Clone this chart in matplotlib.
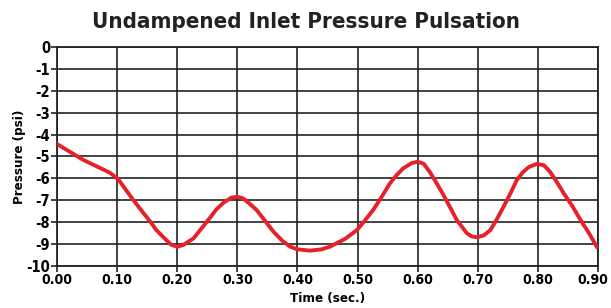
import matplotlib
matplotlib.use('Agg')
import matplotlib.pyplot as plt
from matplotlib.transforms import ScaledTranslation

# pressure curve
time = [0.000, 0.044, 0.088, 0.102, 0.110, 0.127, 0.140, 0.155, 0.165, 0.177,
        0.190, 0.200, 0.210, 0.227, 0.240, 0.255, 0.265, 0.277, 0.290, 0.300,
        0.310, 0.321, 0.332, 0.345, 0.360, 0.375, 0.388, 0.400, 0.421, 0.440,
        0.454, 0.480, 0.499, 0.510, 0.526, 0.540, 0.554, 0.565, 0.576, 0.590,
        0.600, 0.610, 0.620, 0.630, 0.643, 0.655, 0.665, 0.682, 0.690, 0.700,
        0.710, 0.721, 0.730, 0.743, 0.755, 0.765, 0.775, 0.785, 0.798, 0.810,
        0.820, 0.830, 0.843, 0.857, 0.871, 0.885, 0.898]
pressure = [-4.43, -5.16, -5.74, -6.04, -6.35, -6.99, -7.45, -7.97, -8.35, -8.69,
            -9.03, -9.12, -9.04, -8.74, -8.30, -7.78, -7.42, -7.11, -6.88, -6.84,
            -6.92, -7.17, -7.44, -7.90, -8.43, -8.85, -9.12, -9.24, -9.30, -9.24,
            -9.12, -8.75, -8.36, -8.00, -7.44, -6.85, -6.22, -5.85, -5.54, -5.30,
            -5.24, -5.33, -5.70, -6.15, -6.76, -7.38, -7.90, -8.51, -8.65, -8.69,
            -8.60, -8.36, -7.95, -7.29, -6.65, -6.07, -5.72, -5.48, -5.34, -5.40,
            -5.69, -6.10, -6.68, -7.25, -7.90, -8.50, -9.12]

x_ticks = [0.0, 0.1, 0.2, 0.3, 0.4, 0.5, 0.6, 0.7, 0.8, 0.9]
y_ticks = list(range(0, -11, -1))

lab = dict(family='DejaVu Sans', fontstretch='condensed', fontweight='bold')

fig = plt.figure(figsize=(6.11, 3.08), dpi=100)
ax = fig.add_axes([0.0933, 0.1364, 0.8854, 0.711])

ax.plot(time, pressure, color='#e8202a', linewidth=2.8,
        solid_joinstyle='round', zorder=3)

ax.set_xlim(0, 0.9)
ax.set_ylim(-10, 0)
ax.set_xticks(x_ticks)
ax.set_xticklabels(['%.2f' % t for t in x_ticks], fontsize=10, **lab)
ax.set_yticks(y_ticks)
ax.set_yticklabels([str(v) for v in y_ticks], fontsize=10.5, **lab)
ax.tick_params(direction='out', length=4, width=1.2, color='#222222', pad=1)
ax.grid(True, color='#222222', linewidth=1.2)
for s in ax.spines.values():
    s.set_color('#222222')
    s.set_linewidth(1.3)

# last x label sits right on the figure edge, pull it in a little
last = ax.get_xticklabels()[-1]
last.set_transform(last.get_transform() + ScaledTranslation(-5 / 100, 0, fig.dpi_scale_trans))

ax.set_xlabel('Time (sec.)', fontsize=9.5, labelpad=4, **lab)
ax.set_ylabel('Pressure (psi)', fontsize=9.5, labelpad=0, **lab)
fig.text(0.5, 0.93, 'Undampened Inlet Pressure Pulsation', ha='center', va='center',
         family='DejaVu Sans', fontstretch='condensed', fontweight='bold',
         fontsize=16, color='#222222')

fig.savefig('out.png', dpi=100)
